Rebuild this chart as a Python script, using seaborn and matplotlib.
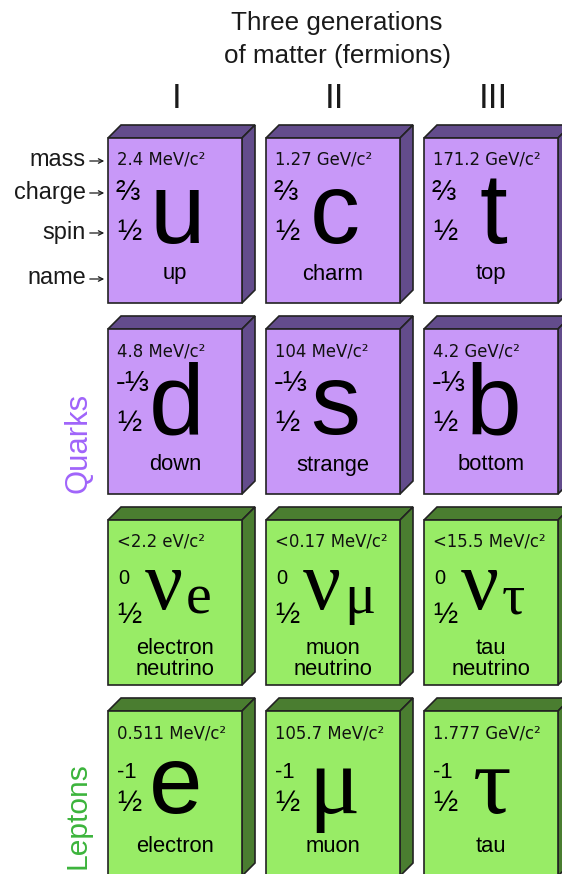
import matplotlib
matplotlib.use('Agg')
import matplotlib.pyplot as plt
from matplotlib.patches import Polygon, Rectangle
import seaborn as sns

# particle data, one row per family
generations = ['I', 'II', 'III']
masses = [
    ['2.4 MeV/c²', '1.27 GeV/c²', '171.2 GeV/c²'],
    ['4.8 MeV/c²', '104 MeV/c²', '4.2 GeV/c²'],
    ['<2.2 eV/c²', '<0.17 MeV/c²', '<15.5 MeV/c²'],
    ['0.511 MeV/c²', '105.7 MeV/c²', '1.777 GeV/c²'],
]
charges = [
    ['⅔', '⅔', '⅔'],
    ['-⅓', '-⅓', '-⅓'],
    ['0', '0', '0'],
    ['-1', '-1', '-1'],
]
spins = ['½', '½', '½', '½']
symbols = [
    ['u', 'c', 't'],
    ['d', 's', 'b'],
    ['ν', 'ν', 'ν'],
    ['e', 'μ', 'τ'],
]
neutrino_subs = ['e', 'μ', 'τ']
names = [
    ['up', 'charm', 'top'],
    ['down', 'strange', 'bottom'],
    ['electron\nneutrino', 'muon\nneutrino', 'tau\nneutrino'],
    ['electron', 'muon', 'tau'],
]
row_labels = ['mass', 'charge', 'spin', 'name']

# layout (pixels)
COL_X = [108, 266, 424]
ROW_Y = [138, 329, 520, 711]
W, H, D = 134, 165, 13
PX = 0.72  # px -> pt at 100 dpi

QUARK_FRONT, QUARK_DARK = '#c898f8', '#634c8c'
LEPTON_FRONT, LEPTON_DARK = '#98ec66', '#4a7d30'
INK = '#000000'

sns.set_theme(style='white')
plt.rcParams['font.family'] = ['Liberation Sans', 'DejaVu Sans']
plt.rcParams['text.color'] = INK

fig = plt.figure(figsize=(5.62, 8.74), dpi=100)
ax = fig.add_axes([0, 0, 1, 1])
ax.set_xlim(0, 562)
ax.set_ylim(874, 0)
ax.axis('off')

sans = ['Liberation Sans', 'DejaVu Sans']
serif = ['Liberation Serif', 'DejaVu Serif']


def draw_box(L, T, front, dark):
    top = Polygon([(L, T), (L + D, T - D), (L + W + D, T - D), (L + W, T)],
                  closed=True, fc=dark, ec='#222222', lw=1.2)
    side = Polygon([(L + W, T), (L + W + D, T - D), (L + W + D, T + H - D), (L + W, T + H)],
                   closed=True, fc=dark, ec='#222222', lw=1.2)
    face = Rectangle((L, T), W, H, fc=front, ec='#222222', lw=1.2)
    for p in (top, side, face):
        ax.add_patch(p)


for r in range(4):
    T = ROW_Y[r]
    quark = r < 2
    for c in range(3):
        L = COL_X[c]
        if quark:
            draw_box(L, T, QUARK_FRONT, QUARK_DARK)
        else:
            draw_box(L, T, LEPTON_FRONT, LEPTON_DARK)

        ax.text(L + 9, T + 27, masses[r][c], family='DejaVu Sans', fontsize=16.5 * PX,
                ha='left', va='baseline', color='#111111')

        ch = charges[r][c]
        if r == 2:
            ax.text(L + 10, T + 59, ch, family=sans, fontsize=20 * PX, ha='left', va='center')
            ax.text(L + 9, T + 95, spins[r], family=sans, fontsize=29 * PX, ha='left', va='center')
            ax.text(L + 56, T + 89, symbols[r][c], family=serif, fontsize=84 * PX,
                    ha='center', va='baseline')
            ax.text(L + 78, T + 93, neutrino_subs[c], family=serif, fontsize=58 * PX,
                    ha='left', va='baseline')
            ax.text(L + W / 2, T + 139, names[r][c], family=sans, fontsize=22 * PX,
                    ha='center', va='center', linespacing=0.95)
        elif r == 3:
            ax.text(L + 9, T + 61, ch, family=sans, fontsize=22 * PX, ha='left', va='center')
            ax.text(L + 9, T + 92, spins[r], family=sans, fontsize=29 * PX, ha='left', va='center')
            fam = sans if c == 0 else serif
            ax.text(L + 68, T + 102, symbols[r][c], family=fam, fontsize=96 * PX,
                    ha='center', va='baseline')
            ax.text(L + W / 2, T + 136, names[r][c], family=sans, fontsize=22 * PX,
                    ha='center', va='center')
        else:
            ax.text(L + 8, T + 54, ch, family=sans, fontsize=29 * PX, ha='left', va='center')
            ax.text(L + 9, T + 94, spins[r], family=sans, fontsize=29 * PX, ha='left', va='center')
            ax.text(L + 69, T + 105, symbols[r][c], family=sans, fontsize=100 * PX,
                    ha='center', va='baseline')
            ax.text(L + W / 2, T + 136, names[r][c], family=sans, fontsize=22 * PX,
                    ha='center', va='center')

# header
ax.text(337, 23, 'Three generations', family=sans, fontsize=26 * PX, ha='center', va='center',
        color='#1a1a1a')
ax.text(337, 56, 'of matter (fermions)', family=sans, fontsize=26 * PX, ha='center', va='center',
        color='#1a1a1a')
for c, g in enumerate(generations):
    ax.text(COL_X[c] + W / 2 + 2, 98, g, family=sans, fontsize=35 * PX, ha='center', va='center',
            color='#1a1a1a')

# row labels with arrows
label_y = [160, 192, 232, 278]
for lab, y in zip(row_labels, label_y):
    ax.text(86, y, lab, family=sans, fontsize=23.5 * PX, ha='right', va='center', color='#1a1a1a')
    ax.annotate('', xy=(107, y + 1), xytext=(87, y + 1),
                arrowprops=dict(arrowstyle='->', lw=0.9, color='#1a1a1a', mutation_scale=8))

# family labels
ax.text(78, 443, 'Quarks', family=sans, fontsize=31 * PX, rotation=90, ha='center', va='center',
        color='#a064fa')
ax.text(78, 816, 'Leptons', family=sans, fontsize=30 * PX, rotation=90, ha='center', va='center',
        color='#3cb43c')

fig.savefig('out.png', dpi=100)
